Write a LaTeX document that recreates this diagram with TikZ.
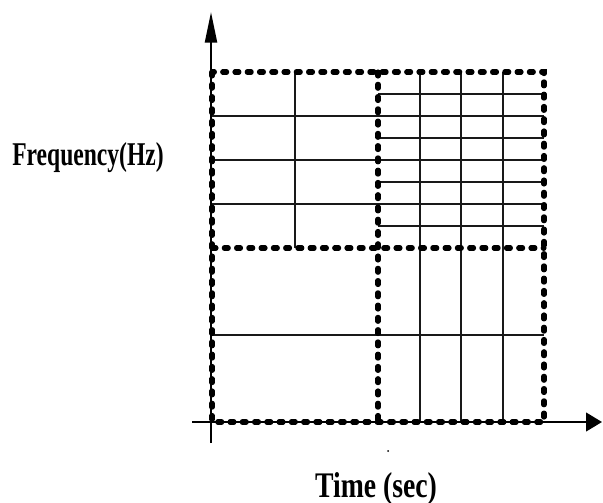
\documentclass[tikz,border=0pt]{standalone}
\usepackage{fontspec}
\usepackage{graphicx}
\setmainfont{Liberation Serif}
\usetikzlibrary{arrows.meta}

\tikzset{
  gridline/.style={line width=1.8pt, black!90},
  dotbox/.style={line width=3.8pt, line cap=round, dash pattern=on 3pt off 6.2pt, black},
  axisline/.style={line width=1.7pt, black},
  label/.style={inner sep=0pt}
}

\begin{document}
\begin{tikzpicture}[x=0.75pt, y=-0.75pt]
  \useasboundingbox (0,0) rectangle (603,503);

  % corners of the tiling
  \coordinate (TL) at (212,72);
  \coordinate (BR) at (544,422);
  \coordinate (MT) at (378,72);
  \coordinate (MB) at (378,422);
  \coordinate (LM) at (212,248);
  \coordinate (RM) at (544,248);

  % upper left tile: 2 columns, 4 rows
  \draw[gridline] (295,72) -- (295,248);
  \foreach \y in {116,160,204}
    \draw[gridline] (212,\y) -- (378,\y);

  % upper right tile: 4 columns, 8 rows
  \foreach \y in {94,116,138,160,182,204,226}
    \draw[gridline] (378,\y) -- (544,\y);
  \foreach \x in {420,461,503}
    \draw[gridline] (\x,72) -- (\x,422);

  % lower tiles
  \draw[gridline] (212,335) -- (544,335);

  % dotted tile borders
  \draw[dotbox] (TL) rectangle (BR);
  \draw[dotbox] (LM) -- (RM);
  \draw[dotbox] (MT) -- (MB);

  % axes
  \coordinate (ybot) at (211,443);
  \coordinate (ytop) at (211,12);
  \coordinate (xleft) at (192,422);
  \coordinate (xright) at (602,422);
  \draw[axisline, -{Triangle[length=23pt, width=9pt]}] (ybot) -- (ytop);
  \draw[axisline, -{Triangle[length=12pt, width=14pt]}] (xleft) -- (xright);

  % small speck under the time axis
  \fill (388,451) circle (1);

  % axis labels
  \node[label, anchor=base west] (ylab) at (12,165)
    {\scalebox{0.71}[1]{\fontsize{24.9}{30}\selectfont\bfseries Frequency(Hz)}};
  \node[label, anchor=base] (xlab) at (376,497)
    {\scalebox{0.77}[1]{\fontsize{27}{32}\selectfont\bfseries Time (sec)}};
\end{tikzpicture}
\end{document}
